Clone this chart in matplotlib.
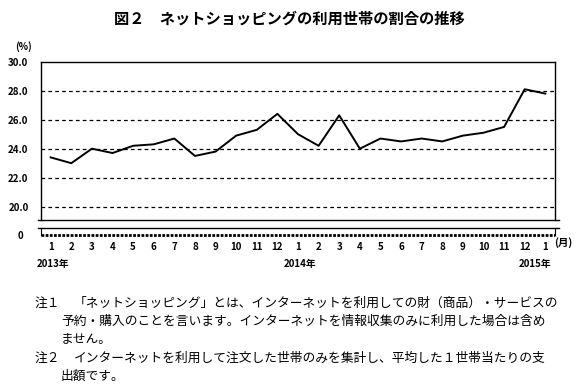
import matplotlib
matplotlib.use('Agg')
import matplotlib.pyplot as plt
import matplotlib.transforms as mtransforms

plt.rcParams['font.family'] = ['Noto Sans CJK JP', 'DejaVu Sans']

# --- data: share of households using online shopping (%) ---
months = ['1', '2', '3', '4', '5', '6', '7', '8', '9', '10', '11', '12',
          '1', '2', '3', '4', '5', '6', '7', '8', '9', '10', '11', '12', '1']
values = [23.4, 23.0, 24.0, 23.7, 24.2, 24.3, 24.7, 23.5, 23.8, 24.9, 25.3, 26.4,
          25.0, 24.2, 26.3, 24.0, 24.7, 24.5, 24.7, 24.5, 24.9, 25.1, 25.5, 28.1, 27.8]
year_labels = ['2013年', '2014年', '2015年']
year_pos = [0, 12, 24]
yticks = [20.0, 22.0, 24.0, 26.0, 28.0, 30.0]

title = '図２　ネットショッピングの利用世帯の割合の推移'
notes = [
    ('注１', '「ネットショッピング」とは、インターネットを利用しての財（商品）・サービスの'),
    ('', '予約・購入のことを言います。インターネットを情報収集のみに利用した場合は含め'),
    ('', 'ません。'),
    ('注２', 'インターネットを利用して注文した世帯のみを集計し、平均した１世帯当たりの支'),
    ('', '出額です。'),
]

W, H = 582, 388
fig = plt.figure(figsize=(W / 100, H / 100), dpi=100)
fs = 7

# main axes (upper part, 19-30%)
ax = fig.add_axes([41 / W, 1 - 220.3 / H, 514 / W, 158.6 / H])
x = list(range(len(values)))
ax.plot(x, values, color='black', linewidth=1.4)
ax.set_xlim(-0.47, len(values) - 0.53)
ax.set_ylim(19.06, 30)
ax.set_yticks(yticks)
ax.set_yticklabels(['%.1f' % v for v in yticks], fontsize=fs, fontweight='bold')
ax.tick_params(axis='y', length=0, pad=9)
ax.set_xticks([])
for v in yticks[:-1]:
    ax.axhline(v, color='black', linewidth=0.9, linestyle=(0, (3, 2.5)))
for s in ax.spines.values():
    s.set_linewidth(1.0)
ax.spines['bottom'].set_visible(False)
ax.plot([-3 / 514, 1 + 4 / 514], [0, 0], transform=ax.transAxes,
        color='black', linewidth=1.0, clip_on=False)

# lower axes (axis break down to 0)
ax2 = fig.add_axes([41 / W, 1 - 235.5 / H, 514 / W, 7.2 / H])
ax2.set_xlim(ax.get_xlim())
ax2.set_ylim(0, 1)
ax2.set_yticks([0])
ax2.set_yticklabels(['0'], fontsize=fs, fontweight='bold')
ax2.tick_params(axis='y', length=0, pad=13)
ax2.set_xticks(x)
ax2.set_xticklabels(months, fontsize=fs, fontweight='bold')
ax2.tick_params(axis='x', length=0, pad=5)
ax2.spines['top'].set_visible(False)
ax2.spines['bottom'].set_visible(False)
ax2.plot([-3 / 514, 1 + 4 / 514], [1, 1], transform=ax2.transAxes,
         color='black', linewidth=1.0, clip_on=False)
ax2.plot([0, 1], [0, 0], transform=ax2.transAxes, color='black',
         linewidth=2.0, linestyle=(0, (1.0, 0.5)), clip_on=False)

trans = mtransforms.blended_transform_factory(ax2.transData, ax2.transAxes)
for i, (lab, p) in enumerate(zip(year_labels, year_pos)):
    dx = -0.5 if i == len(year_labels) - 1 else 0.1
    ax2.text(p + dx, -3.9, lab, transform=trans, ha='center', va='center',
             fontsize=fs, fontweight='bold')

fig.text(23 / W, 1 - 47 / H, '(%)', fontsize=fs, fontweight='bold',
         ha='center', va='center')
fig.text(563 / W, 1 - 243 / H, '(月)', fontsize=fs + 0.5, fontweight='bold',
         ha='center', va='center')

fig.text(289 / W, 1 - 19 / H, title, fontsize=11, fontweight='bold',
         ha='center', va='center')

note_y = [303, 321, 339, 358, 376]
for (head, body), yy in zip(notes, note_y):
    if head:
        fig.text(35 / W, 1 - yy / H, head, fontsize=9.2, ha='left', va='center')
        fig.text(74 / W, 1 - yy / H, body, fontsize=9.2, ha='left', va='center')
    else:
        fig.text(61 / W, 1 - yy / H, body, fontsize=9.2, ha='left', va='center')

fig.savefig('out.png', dpi=100)
